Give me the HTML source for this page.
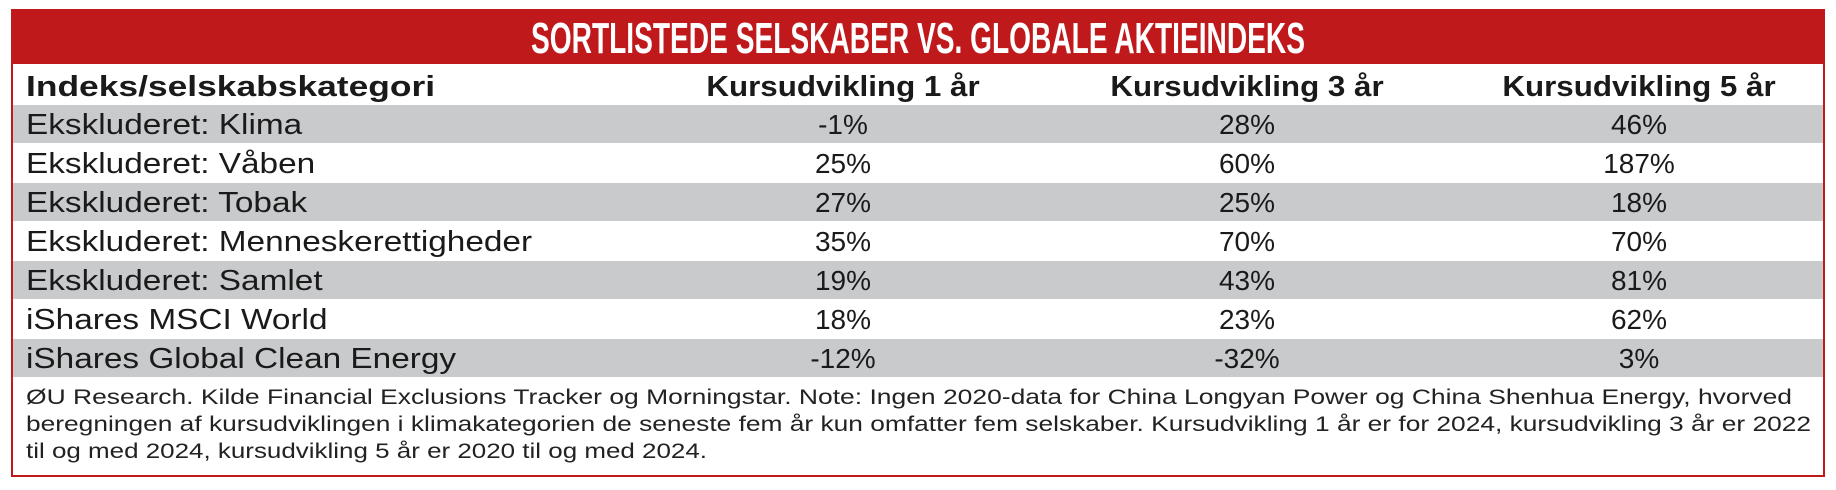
<!DOCTYPE html>
<html><head><meta charset="utf-8"><style>
html,body{margin:0;padding:0;background:#fff;}
svg{display:block;}
</style></head><body>
<svg id="tbl" width="1836" height="490" viewBox="0 0 1836 490" xmlns="http://www.w3.org/2000/svg" font-family="Liberation Sans, sans-serif">
<rect x="12" y="10" width="1812" height="466" fill="#fff" stroke="#c0191b" stroke-width="2"/>
<rect x="12" y="10" width="1812" height="54" fill="#c0191b"/>
<text x="918" y="53" text-anchor="middle" fill="#fff" font-weight="bold" font-size="44" textLength="774" lengthAdjust="spacingAndGlyphs">SORTLISTEDE SELSKABER VS. GLOBALE AKTIEINDEKS</text>
<g id="hdr"></g>
<g id="rows"></g>
<g font-size="21" fill="#222">
<text x="26" y="404" textLength="1766" lengthAdjust="spacingAndGlyphs">ØU Research. Kilde Financial Exclusions Tracker og Morningstar. Note: Ingen 2020-data for China Longyan Power og China Shenhua Energy, hvorved</text>
<text x="26" y="431" textLength="1785" lengthAdjust="spacingAndGlyphs">beregningen af kursudviklingen i klimakategorien de seneste fem år kun omfatter fem selskaber. Kursudvikling 1 år er for 2024, kursudvikling 3 år er 2022</text>
<text x="26" y="458" textLength="681" lengthAdjust="spacingAndGlyphs">til og med 2024, kursudvikling 5 år er 2020 til og med 2024.</text>
</g>
</svg>
<script>
const headers = ["Indeks/selskabskategori","Kursudvikling 1 år","Kursudvikling 3 år","Kursudvikling 5 år"];
const categories = ["Ekskluderet: Klima","Ekskluderet: Våben","Ekskluderet: Tobak","Ekskluderet: Menneskerettigheder","Ekskluderet: Samlet","iShares MSCI World","iShares Global Clean Energy"];
const perf1 = [-1,25,27,35,19,18,-12];
const perf3 = [28,60,25,70,43,23,-32];
const perf5 = [46,187,18,70,81,62,3];

const NS="http://www.w3.org/2000/svg";
const colX=[26,843,1247,1639];
const top0=105, rowH=39;
const hdr=document.getElementById('hdr'), rows=document.getElementById('rows');
function txt(parent,x,y,s,anchor,bold,size,stretch){
  const t=document.createElementNS(NS,'text');
  t.setAttribute('x',x);t.setAttribute('y',y);
  t.setAttribute('text-anchor',anchor);
  t.setAttribute('font-size',size);
  t.setAttribute('fill','#1a1a1a');
  if(bold)t.setAttribute('font-weight','bold');
  t.textContent=s;parent.appendChild(t);
  if(stretch&&stretch!==1){
    const w=t.getComputedTextLength();
    t.setAttribute('textLength',(w*stretch).toFixed(1));
    t.setAttribute('lengthAdjust','spacingAndGlyphs');
  }
  return t;
}
headers.forEach((h,i)=>{
  const t=txt(hdr,colX[i],96,h,i?'middle':'start',true,29,i?1.08:1.22);
  
  
});
const series=[perf1,perf3,perf5];
categories.forEach((c,r)=>{
  const y=top0+r*rowH;
  if(r%2===0){
    const bg=document.createElementNS(NS,'rect');
    bg.setAttribute('x',13);bg.setAttribute('y',y);bg.setAttribute('width',1810);bg.setAttribute('height',rowH-1);
    bg.setAttribute('fill','#c9cacc');
    
    
    rows.appendChild(bg);
  }
  const l=txt(rows,colX[0],y+29,c,'start',false,29,1.15);
  
  
  series.forEach((s,i)=>{
    const v=txt(rows,colX[i+1],y+29,s[r]+'%','middle',false,28,1);
    
    
  });
});
</script>
</body></html>
